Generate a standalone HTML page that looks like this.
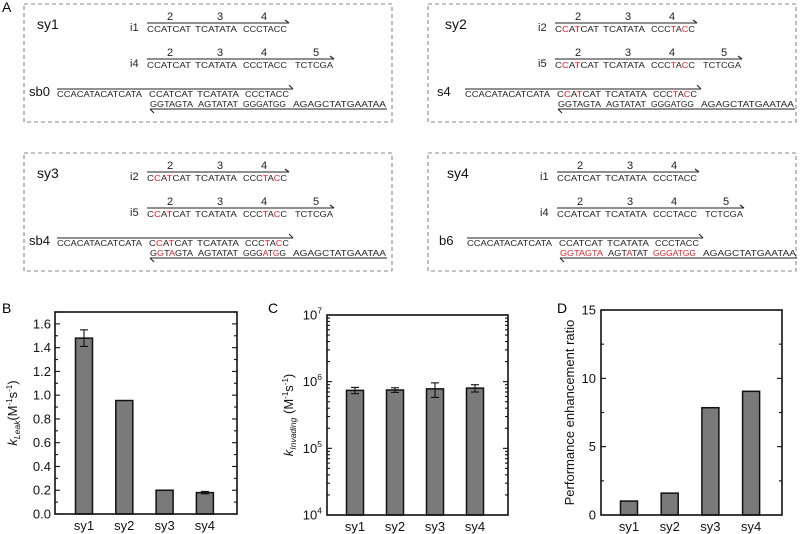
<!DOCTYPE html>
<html><head><meta charset="utf-8">
<style>
html,body{margin:0;padding:0;background:#fff;}
svg{display:block;font-family:"Liberation Sans",Arial,sans-serif;}
</style></head>
<body>
<svg id="fig" width="800" height="534" viewBox="0 0 800 534">
  <text x="2" y="12" font-size="14">A</text>
  <text x="2" y="313" font-size="14">B</text>
  <text x="268" y="313" font-size="14">C</text>
  <text x="557" y="313" font-size="14">D</text>
  <g id="panels"></g>
  <g id="chartB"></g>
  <g id="chartC"></g>
  <g id="chartD"></g>
</svg>
<script>
const NS="http://www.w3.org/2000/svg";
function el(tag,attrs,parent,txt){const e=document.createElementNS(NS,tag);for(const k in attrs)e.setAttribute(k,attrs[k]);if(txt!==undefined)e.textContent=txt;parent.appendChild(e);return e;}
const RED="#e8202a", INK="#222";

// ---------- Panel A ----------
const panelNames=["sy1","sy2","sy3","sy4"];
const panelOrigins=[[0,0],[408,0],[0,149],[410,149]];
const inv1=["i1","i2","i2","i1"], inv2=["i4","i5","i5","i4"], subs=["sb0","s4","sb4","b6"];
const invRed=[["-------","-------","-------","------"],["-r-r---","-------","---r-r-","------"],["-r-r---","-------","---r-r-","------"],["-------","-------","-------","------"]];
const botRed=[["-------","-------","-------","--------------"],["-------","-------","-------","--------------"],["-r-r---","-------","---r-r-","--------------"],["rrrrrrr","---r---","rrrrrrr","--------------"]];
const invSeg=["CCATCAT","TCATATA","CCCTACC","TCTCGA"];
const segX=[[147,44],[195,42],[243,44],[295,38]];
const numX=[170,220,264,316];
const botSeg=["GGTAGTA","AGTATAT","GGGATGG","AGAGCTATGAATAA"];
const botX=[[150,43],[198,40],[243,43],[293,93]];
function seqText(g,x,y,w,s,mask,name){
  const t=el("text",{x:x,y:y,"font-size":8.6,textLength:w,lengthAdjust:"spacingAndGlyphs",fill:INK},g);
  
  
  for(let i=0;i<s.length;i++){el("tspan",{fill:mask[i]==='r'?RED:INK},t,s[i]);}
}
const pg=document.getElementById("panels");
panelNames.forEach((nm,p)=>{
  const [ox,oy]=panelOrigins[p];
  const g=el("g",{transform:`translate(${ox},${oy})`},pg);
  
  
  const bx=ox>0?428-ox:24;
  const box=el("rect",{x:bx,y:4,width:368,height:118,fill:"none",stroke:"#888","stroke-width":1.1,"stroke-dasharray":"4,3"},g);
  
  
  const lb=el("text",{x:37,y:29,"font-size":14,fill:"#111"},g,nm);
  
  
  [[inv1[p],3,20,23,32],[inv2[p],4,56,59,68]].forEach((r)=>{
    const [name,nseg,ny,ly,sy]=r;
    const t=el("text",{x:130,y:sy-1,"font-size":11,fill:INK},g,name);
    
    
    const end=nseg===3?289:334;
    el("line",{x1:147,y1:ly,x2:end,y2:ly,stroke:INK,"stroke-width":1.1},g);
    el("line",{x1:end-4,y1:ly-3,x2:end,y2:ly,stroke:INK,"stroke-width":1.1},g);
    for(let s=0;s<nseg;s++){
      const n=el("text",{x:numX[s],y:ny,"font-size":11,"text-anchor":"middle",fill:INK},g,String(s+2));
      
      
      seqText(g,segX[s][0],sy,segX[s][1],invSeg[s],invRed[p][s],'invader-sequence');
    }
  });
  const sl=el("text",{x:29,y:96,"font-size":13,fill:"#111"},g,subs[p]);
  
  
  el("line",{x1:57,y1:89,x2:293,y2:89,stroke:INK,"stroke-width":1.1},g);
  el("line",{x1:289,y1:85,x2:293,y2:89,stroke:INK,"stroke-width":1.1},g);
  seqText(g,57,97,85,"CCACATACATCATA","--------------",'toehold-sequence');
  for(let s=0;s<3;s++) seqText(g,segX[s][0]+2,97,segX[s][1],invSeg[s],invRed[p===3?0:p][s],'top-strand-sequence');
  for(let s=0;s<4;s++) seqText(g,botX[s][0],107,botX[s][1],botSeg[s],botRed[p][s],'bottom-strand-sequence');
  el("line",{x1:150,y1:109,x2:387,y2:109,stroke:INK,"stroke-width":1.1},g);
  el("line",{x1:150,y1:109,x2:154,y2:113,stroke:INK,"stroke-width":1.1},g);
});

// ---------- Chart B ----------
const catsB=["sy1","sy2","sy3","sy4"];
const valsB=[1.48,0.955,0.2,0.18];
const errB=[0.07,0,0,0.01];
const ticksB=["0.0","0.2","0.4","0.6","0.8","1.0","1.2","1.4","1.6"];
// ---------- Chart C ----------
const catsC=["sy1","sy2","sy3","sy4"];
const valsC=[7.4e5,7.5e5,7.8e5,8.0e5];
const errLoC=[6.6e5,6.9e5,5.8e5,7.0e5];
const errHiC=[8.2e5,8.1e5,9.6e5,9.0e5];
const ticksC=[4,5,6,7];
// ---------- Chart D ----------
const catsD=["sy1","sy2","sy3","sy4"];
const valsD=[1.02,1.6,7.85,9.05];
const ticksD=[0,5,10,15];

function frame(g,L,R,T,B){
  const r=el("rect",{x:L,y:T,width:R-L,height:B-T,fill:"none",stroke:"#111","stroke-width":1.6},g);
  
  
}
function bars(g,cats,xc,vals,yf,base,w){
  cats.forEach((c,i)=>{
    const y=yf(vals[i]);
    const b=el("rect",{x:xc(i)-w/2,y:y,width:w,height:base-y,fill:"#7a7a7a",stroke:"#111","stroke-width":1.5},g);
    
    
    const t=el("text",{x:xc(i),y:base+16,"font-size":13,"text-anchor":"middle",fill:"#111"},g,c);
    
    
  });
}
function errbar(g,x,lo,hi){
  el("line",{x1:x,y1:lo,x2:x,y2:hi,stroke:"#111","stroke-width":1.1},g);
  el("line",{x1:x-4,y1:lo,x2:x+4,y2:lo,stroke:"#111","stroke-width":1.1},g);
  el("line",{x1:x-4,y1:hi,x2:x+4,y2:hi,stroke:"#111","stroke-width":1.1},g);
}

(function(){
  const g=document.getElementById("chartB");
  const L=55,R=237,T=312,B=514,max=1.7;
  const y=v=>B-(v/max)*(B-T);
  const xc=i=>84+i*40.3;
  for(let k=0;k<=17;k++){const v=k/10;const yy=y(v);const len=k%2===0?5:3;
    el("line",{x1:L,y1:yy,x2:L+len,y2:yy,stroke:"#111","stroke-width":1.1},g);el("line",{x1:R,y1:yy,x2:R-len,y2:yy,stroke:"#111","stroke-width":1.1},g);}
  ticksB.forEach(t=>{const lab=el("text",{x:L-4,y:y(parseFloat(t))+4.5,"font-size":13,"text-anchor":"end",fill:"#111"},g,t);
    });
  bars(g,catsB,xc,valsB,y,B,17);
  valsB.forEach((v,i)=>{if(errB[i]>0)errbar(g,xc(i),y(v-errB[i]),y(v+errB[i]));});
  frame(g,L,R,T,B);
  const yl=el("text",{transform:`translate(17,${(T+B)/2}) rotate(-90)`,"font-size":13,"text-anchor":"middle",fill:"#111"},g);
  
  el("tspan",{"font-style":"italic"},yl,"k");el("tspan",{"font-size":8.5,"font-style":"italic",dy:3},yl,"Leak");
  el("tspan",{dy:-3},yl,"(M");el("tspan",{"font-size":8,dy:-5},yl,"-1");el("tspan",{dy:5},yl,"s");el("tspan",{"font-size":8,dy:-5},yl,"-1");el("tspan",{dy:5},yl,")");
})();

(function(){
  const g=document.getElementById("chartC");
  const L=327,R=508,T=315,B=515,lo=4,hi=7;
  const y=v=>B-((Math.log10(v)-lo)/(hi-lo))*(B-T);
  const xc=i=>355+i*40;
  for(let d=lo;d<hi;d++){for(let m=1;m<10;m++){const yy=y(m*Math.pow(10,d));const len=m===1?5:3;
    el("line",{x1:L,y1:yy,x2:L+len,y2:yy,stroke:"#111","stroke-width":1.1},g);el("line",{x1:R,y1:yy,x2:R-len,y2:yy,stroke:"#111","stroke-width":1.1},g);}}
  ticksC.forEach(t=>{const lab=el("text",{x:L-5,y:y(Math.pow(10,t))+4.5,"font-size":13,"text-anchor":"end",fill:"#111"},g);
    
    el("tspan",{},lab,"10");el("tspan",{"font-size":8.5,dy:-6},lab,String(t));});
  bars(g,catsC,xc,valsC,y,B,17);
  valsC.forEach((v,i)=>errbar(g,xc(i),y(errLoC[i]),y(errHiC[i])));
  frame(g,L,R,T,B);
  const yl=el("text",{transform:`translate(293,${(T+B)/2}) rotate(-90)`,"font-size":13,"text-anchor":"middle",fill:"#111"},g);
  
  el("tspan",{"font-style":"italic"},yl,"k");el("tspan",{"font-size":8.5,"font-style":"italic",dy:3},yl,"Invading");
  el("tspan",{dy:-3},yl," (M");el("tspan",{"font-size":8,dy:-5},yl,"-1");el("tspan",{dy:5},yl,"s");el("tspan",{"font-size":8,dy:-5},yl,"-1");el("tspan",{dy:5},yl,")");
})();

(function(){
  const g=document.getElementById("chartD");
  const L=601,R=782,T=310,B=515,max=15;
  const y=v=>B-(v/max)*(B-T);
  const xc=i=>629+i*40.7;
  for(let v=0;v<=15;v+=2.5){const yy=y(v);const len=v%5===0?5:3;
    el("line",{x1:L,y1:yy,x2:L+len,y2:yy,stroke:"#111","stroke-width":1.1},g);el("line",{x1:R,y1:yy,x2:R-len,y2:yy,stroke:"#111","stroke-width":1.1},g);}
  ticksD.forEach(t=>{const lab=el("text",{x:L-5,y:y(t)+4.5,"font-size":13,"text-anchor":"end",fill:"#111"},g,String(t));
    });
  bars(g,catsD,xc,valsD,y,B,17);
  frame(g,L,R,T,B);
  const yl=el("text",{transform:`translate(574,${(T+B)/2}) rotate(-90)`,"font-size":13,"text-anchor":"middle",fill:"#111"},g,"Performance enhancement ratio");
  
})();
</script>
</body></html>
